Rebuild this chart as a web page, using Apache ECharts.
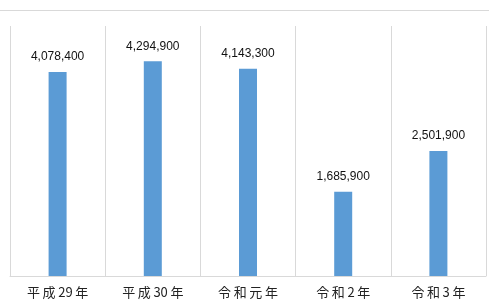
<!DOCTYPE html>
<html>
<head>
<meta charset="utf-8">
<style>
  html, body { margin: 0; padding: 0; background: #fff; }
  #chart { width: 489px; height: 306px; }
</style>
<script src="https://cdn.jsdelivr.net/npm/echarts@6/dist/echarts.min.js"></script>
</head>
<body>
<div id="chart"></div>
<script>
const categories = ['平成29年', '平成30年', '令和元年', '令和2年', '令和3年']
const values = [4078400, 4294900, 4143300, 1685900, 2501900]

const chart = echarts.init(document.getElementById('chart'))
const option = {
  animation: false,
  color: ['#5B9BD5'],
  grid: {
    top: 26,
    left: 10,
    right: 3,
    bottom: 30,
    containLabel: false
  },
  graphic: [
    {
      type: 'line',
      shape: { x1: 0, y1: 10.5, x2: 489, y2: 10.5 },
      style: { stroke: '#d9d9d9', lineWidth: 1 }
    }
  ],
  xAxis: {
    type: 'category',
    data: categories,
    axisLine: { lineStyle: { color: '#d9d9d9' } },
    axisTick: { show: false },
    splitLine: { show: true, lineStyle: { color: '#d9d9d9' } },
    axisLabel: {
      color: '#222',
      fontSize: 13,
      margin: 10,
      fontFamily: 'Noto Sans CJK JP',
      // spaced kanji, digits kept together
      formatter: v => v.match(/\d+|./g).join('\u2009')
    }
  },
  yAxis: {
    type: 'value',
    min: 0,
    max: 5000000,
    show: false,
    splitLine: { show: false }
  },
  series: [
    {
      type: 'bar',
      data: values,
      barWidth: 18,
      label: {
        show: true,
        position: 'top',
        distance: 9,
        color: '#111',
        fontSize: 12,
        fontFamily: '"Liberation Sans Narrow", "Liberation Sans", sans-serif',
        formatter: p => p.value.toLocaleString('en-US')
      }
    }
  ]
}
chart.setOption(option)
</script>
</body>
</html>
